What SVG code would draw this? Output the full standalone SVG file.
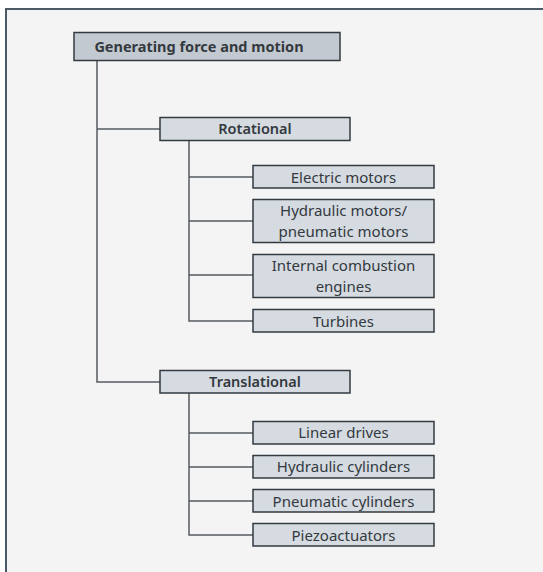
<svg xmlns="http://www.w3.org/2000/svg" width="543" height="572" viewBox="0 0 543 572">
  <style>
    .box { fill: #d5dbe1; stroke: #333a40; stroke-width: 1.5; }
    .root { fill: #c3c9d0; }
    .lbl { font-family: "Noto Sans", "Liberation Sans", sans-serif; font-size: 15px; fill: #33393e; text-anchor: middle; }
    .bold { font-weight: bold; font-size: 14.5px; }
    .mid { font-weight: 600; font-size: 14.5px; }
    .conn { fill: none; stroke: #555b60; stroke-width: 1.5; }
  </style>
  <!-- panel -->
  <rect x="0" y="0" width="543" height="572" fill="#ffffff"/>
  <rect x="6" y="9" width="537" height="563" fill="#f4f4f4"/>
  <path d="M6 572 V9 H543" fill="none" stroke="#4a5a66" stroke-width="2"/>

  <g id="connectors" class="conn">
    <path d="M97 61 V382 H160"/>
    <path d="M97 129 H160"/>
    <path d="M189 141 V321 H253"/>
    <path d="M189 177 H253"/>
    <path d="M189 221 H253"/>
    <path d="M189 275 H253"/>
    <path d="M189 393 V535 H253"/>
    <path d="M189 433 H253"/>
    <path d="M189 467 H253"/>
    <path d="M189 501 H253"/>
  </g>

  <g id="root">
    <rect class="box root" x="74" y="32.5" width="266" height="28"/>
    <text class="lbl bold" x="199" y="51.5">Generating force and motion</text>
  </g>
  <g id="rotational">
    <rect class="box" x="160" y="117.5" width="190" height="23"/>
    <text class="lbl mid" x="255" y="134.3">Rotational</text>
  </g>
  <g id="electric-motors">
    <rect class="box" x="253" y="165.5" width="181" height="22.5"/>
    <text class="lbl" x="343.5" y="183.3">Electric motors</text>
  </g>
  <g id="hydraulic-motors">
    <rect class="box" x="253" y="199.5" width="181" height="43"/>
    <text class="lbl" x="343.5" y="215.7">Hydraulic motors/</text>
    <text class="lbl" x="343.5" y="236.5">pneumatic motors</text>
  </g>
  <g id="combustion-engines">
    <rect class="box" x="253" y="254.5" width="181" height="43"/>
    <text class="lbl" x="343.5" y="270.7">Internal combustion</text>
    <text class="lbl" x="343.5" y="291.7">engines</text>
  </g>
  <g id="turbines">
    <rect class="box" x="253" y="309.5" width="181" height="22.5"/>
    <text class="lbl" x="343.5" y="326.7">Turbines</text>
  </g>
  <g id="translational">
    <rect class="box" x="160" y="370.5" width="190" height="22.5"/>
    <text class="lbl mid" x="255" y="387.3">Translational</text>
  </g>
  <g id="linear-drives">
    <rect class="box" x="253" y="421.5" width="181" height="22.5"/>
    <text class="lbl" x="343.5" y="438.3">Linear drives</text>
  </g>
  <g id="hydraulic-cylinders">
    <rect class="box" x="253" y="455.5" width="181" height="22.5"/>
    <text class="lbl" x="343.5" y="472.3">Hydraulic cylinders</text>
  </g>
  <g id="pneumatic-cylinders">
    <rect class="box" x="253" y="489.5" width="181" height="22.5"/>
    <text class="lbl" x="343.5" y="506.7">Pneumatic cylinders</text>
  </g>
  <g id="piezoactuators">
    <rect class="box" x="253" y="523.5" width="181" height="22.5"/>
    <text class="lbl" x="343.5" y="541">Piezoactuators</text>
  </g>
</svg>
